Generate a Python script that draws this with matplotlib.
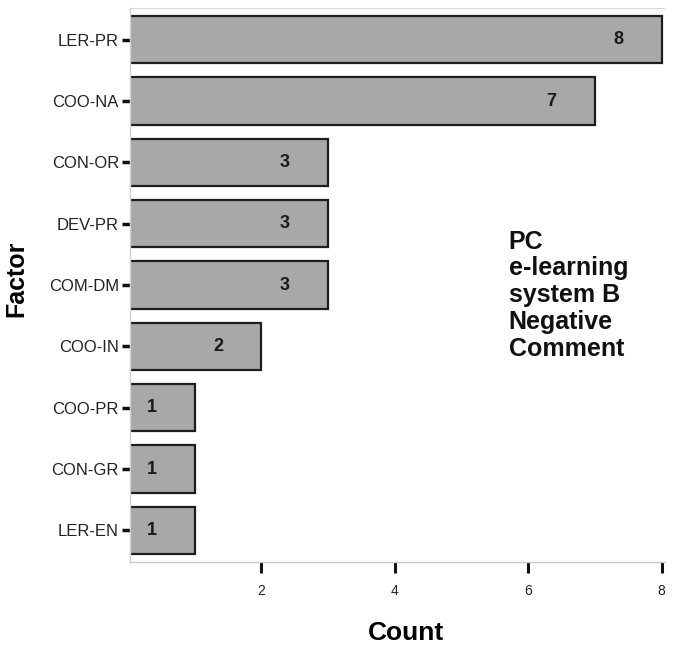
import matplotlib.pyplot as plt

factors = ["LER-PR", "COO-NA", "CON-OR", "DEV-PR", "COM-DM", "COO-IN", "COO-PR", "CON-GR", "LER-EN"]
counts = [8, 7, 3, 3, 3, 2, 1, 1, 1]
xticks = [2, 4, 6, 8]

plt.rcParams['font.family'] = ['Liberation Sans', 'DejaVu Sans']

fig = plt.figure(figsize=(6.79, 6.5), dpi=100)
ax = fig.add_axes([0.1915, 0.135, 0.788, 0.853])

pos = list(range(len(factors)))
ax.barh(pos, counts, height=0.77, color="#a8a8a8", edgecolor="#1e1e1e", linewidth=1.6)

for p, c in zip(pos, counts):
    ax.text(c - 0.65, p, str(c), ha="center", va="center", fontsize=13, fontweight="bold", color="#1a1a1a")

ax.set_xlim(0.03, 8.05)
ax.set_ylim(8.52, -0.52)
ax.set_yticks(pos)
ax.set_yticklabels(factors, fontsize=12, color="#222")
ax.set_xticks(xticks)
ax.set_xticklabels([str(t) for t in xticks], fontsize=10, color="#222")
ax.tick_params(axis="y", length=6, width=2.5, color="#111", pad=2)
ax.tick_params(axis="x", length=8, width=2.2, color="#111", pad=8)

for side in ["top", "right"]:
    ax.spines[side].set_visible(False)
ax.spines["left"].set_color("#d0d0d0")
ax.spines["bottom"].set_color("#c8c8c8")
ax.spines["left"].set_linewidth(1.0)
ax.spines["bottom"].set_linewidth(1.0)
ax.axhline(-0.52, color="#d8d8d8", linewidth=1.0)

ax.set_xlabel("Count", fontsize=19, fontweight="bold")
ax.xaxis.set_label_coords(0.516, -0.106)
ax.set_ylabel("Factor", fontsize=18, fontweight="bold")
ax.yaxis.set_label_coords(-0.19, 0.511)

ax.text(0.708, 0.6, "PC\ne-learning\nsystem B\nNegative\nComment", transform=ax.transAxes,
        ha="left", va="top", fontsize=18, fontweight="bold", color="#111", linespacing=1.15)

fig.savefig("out.png", dpi=100)
